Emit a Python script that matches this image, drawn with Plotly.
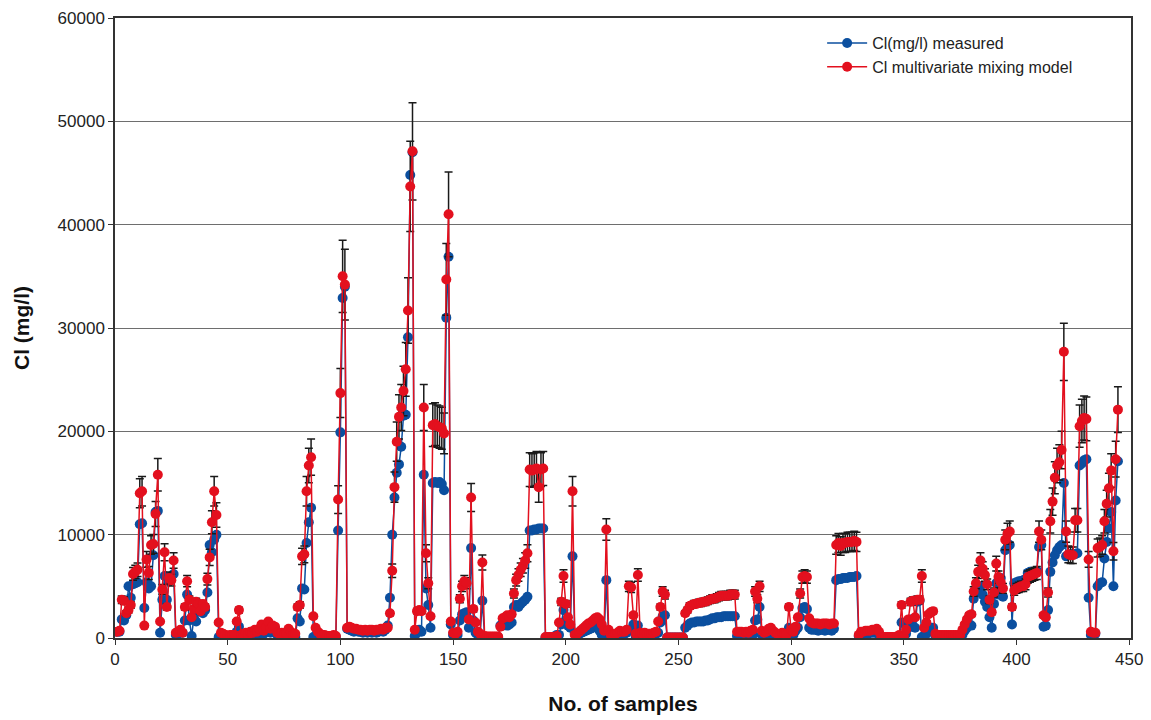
import plotly.graph_objects as go

# Cl (mg/l) measured, samples 1..445 (rows of 10)
measured_cl = [
    600, 600, 1800, 1700, 2200, 5000, 3900, 5200, 5300, 5400,
    11000, 11100, 2900, 5400, 4800, 5000, 8000, 12200, 12300, 500,
    3700, 6000, 3700, 5500, 6000, 6200, 300, 400, 700, 500,
    1700, 4200, 1700, 200, 2000, 1600, 2600, 3000, 2400, 2700,
    4400, 9000, 8300, 9500, 10000, 100, 100, 100, 50, 100,
    200, 200, 200, 600, 1100, 100, 200, 300, 100, 400,
    300, 500, 300, 700, 900, 400, 600, 1000, 500, 700,
    900, 300, 200, 300, 100, 200, 600, 300, 100, 100,
    1900, 1600, 4800, 4700, 9200, 11200, 12600, 100, 150, 200,
    100, 100, 100, 100, 50, 100, 100, 100, 10400, 19900,
    32900, 34000, 900, 800, 700, 600, 700, 600, 600, 500,
    600, 500, 600, 500, 600, 500, 600, 700, 600, 800,
    1200, 3900, 10000, 13600, 16000, 16800, 18500, 21500, 21600, 29100,
    44800, 47000, 200, 500, 800, 600, 15800, 4800, 3200, 1000,
    15000, 15100, 15000, 15100, 14900, 14300, 31000, 36900, 1300, 300,
    200, 300, 1700, 2300, 2400, 2500, 1000, 8700, 1700, 500,
    300, 200, 3600, 100, 80, 80, 80, 80, 80, 80,
    1200, 1200, 1300, 1200, 1300, 1500, 3000, 3200, 3000, 3300,
    3500, 3700, 4000, 10400, 10400, 10500, 10500, 10600, 10600, 10600,
    50, 50, 50, 50, 100, 300, 300, 1300, 2700, 1700,
    1200, 1000, 7900, 400, 300, 400, 500, 600, 700, 800,
    900, 1000, 1100, 1200, 700, 300, 100, 5600, 300, 200,
    100, 200, 300, 400, 300, 400, 500, 700, 800, 1300,
    200, 1200, 300, 200, 300, 200, 300, 200, 300, 400,
    500, 1500, 2100, 2200, 50, 50, 50, 50, 50, 50,
    50, 50, 1000, 1200, 1400, 1500, 1500, 1600, 1600, 1600,
    1600, 1700, 1700, 1800, 1900, 1900, 2000, 2000, 2000, 2100,
    2100, 2100, 2100, 2100, 2100, 200, 300, 200, 100, 200,
    100, 200, 300, 1700, 1800, 3000, 300, 200, 300, 500,
    700, 400, 300, 200, 100, 200, 300, 100, 1000, 500,
    300, 700, 1000, 2000, 2900, 3000, 2800, 1000, 800, 800,
    800, 700, 800, 800, 700, 800, 800, 700, 900, 5600,
    5700, 5700, 5800, 5800, 5800, 5900, 5900, 5900, 6000, 200,
    300, 300, 400, 400, 500, 500, 500, 600, 300, 50,
    50, 50, 50, 50, 50, 50, 50, 200, 1500, 100,
    400, 1000, 1800, 1800, 1000, 3500, 3600, 100, 200, 400,
    800, 1000, 1000, 200, 100, 100, 100, 100, 100, 100,
    100, 100, 100, 100, 100, 300, 700, 1000, 1200, 1200,
    3800, 4800, 4400, 5000, 4200, 3500, 3000, 2000, 1000, 3300,
    5300, 4200, 5800, 4000, 8500, 8800, 9000, 1300, 5300, 5400,
    5500, 5500, 5600, 5700, 6300, 6400, 6400, 6400, 6500, 8800,
    9000, 1100, 1200, 2700, 6400, 7300, 8000, 8500, 8800, 9000,
    15000, 7900, 8000, 8100, 8100, 8100, 8200, 16700, 16900, 17200,
    17300, 3900, 300, 300, 400, 5000, 5300, 5400, 7700, 9300,
    10600, 12200, 5000, 13300, 17100,
]

# Cl multivariate mixing model, samples 1..445
model_cl = [
    600, 700, 3700, 3600, 2400, 2700, 3200, 6200, 6400, 6600,
    14000, 14200, 1200, 7600, 6300, 9000, 9100, 12000, 15800, 1600,
    4700, 8300, 3000, 5800, 5600, 7500, 500, 600, 800, 500,
    3000, 5500, 3700, 2000, 2800, 3500, 3300, 2600, 3300, 3000,
    5700, 7800, 11200, 14200, 11900, 1500, 500, 400, 300, 200,
    300, 300, 300, 1600, 2700, 300, 400, 500, 300, 600,
    500, 800, 600, 900, 1300, 700, 1000, 1600, 900, 1200,
    1100, 500, 400, 500, 300, 400, 900, 600, 300, 400,
    3000, 3200, 7900, 8100, 14200, 16700, 17500, 2100, 1000, 600,
    400, 300, 300, 200, 200, 200, 300, 200, 13400, 23700,
    35000, 34200, 1000, 1100, 1000, 900, 900, 800, 800, 700,
    800, 700, 800, 800, 700, 800, 800, 900, 800, 1000,
    1000, 2400, 6500, 14600, 19000, 21400, 22300, 23900, 26000, 31700,
    43700, 47100, 800, 2600, 2700, 2600, 22300, 8200, 5300, 2100,
    20600, 20700, 20500, 20400, 20300, 19800, 34700, 41000, 1600, 500,
    400, 600, 3800, 5000, 5500, 5300, 1800, 13600, 2800, 1500,
    600, 400, 7300, 200, 150, 150, 150, 150, 150, 150,
    1100, 1900, 2000, 2200, 2000, 2300, 4300, 5600, 6100, 6600,
    7000, 7500, 8200, 16300, 16200, 16300, 16400, 14600, 16300, 16400,
    100, 100, 100, 100, 100, 200, 1500, 3500, 6000, 3300,
    2000, 1300, 14200, 300, 400, 600, 800, 1000, 1200, 1400,
    1500, 1700, 1900, 2000, 1800, 1300, 700, 10500, 800, 300,
    200, 400, 500, 700, 600, 600, 800, 5000, 4900, 2200,
    400, 6100, 500, 400, 500, 400, 400, 400, 500, 600,
    1600, 3000, 4500, 4200, 50, 50, 50, 50, 50, 50,
    50, 50, 2400, 2700, 3100, 3200, 3300, 3300, 3400, 3400,
    3500, 3500, 3600, 3700, 3800, 3800, 3900, 4000, 4100, 4100,
    4100, 4100, 4200, 4200, 4200, 600, 600, 600, 500, 600,
    500, 700, 800, 4500, 3800, 5000, 700, 500, 600, 900,
    1000, 700, 500, 400, 300, 500, 400, 300, 3000, 800,
    600, 1100, 2000, 4300, 5900, 6000, 5900, 1900, 1500, 1400,
    1400, 1400, 1300, 1400, 1400, 1400, 1300, 1400, 1400, 9000,
    9200, 8900, 9200, 9200, 9300, 9300, 9300, 9400, 9300, 300,
    600, 600, 700, 700, 700, 800, 800, 900, 600, 100,
    100, 100, 100, 100, 100, 100, 100, 300, 3200, 200,
    800, 1800, 3500, 3600, 2000, 3700, 3700, 6000, 1000, 1500,
    2300, 2500, 2600, 400, 300, 300, 300, 300, 300, 300,
    300, 300, 300, 300, 300, 800, 1300, 1800, 2200, 2300,
    4500, 5300, 6400, 7500, 6700, 6100, 5200, 3700, 2500, 4400,
    7200, 5900, 5400, 4800, 9500, 10100, 10300, 3000, 4600, 4800,
    4900, 5000, 5000, 5200, 5900, 6000, 6100, 6200, 6300, 10300,
    9500, 2200, 2000, 4400, 11300, 13200, 15500, 16700, 17000, 18200,
    27700, 10300, 8100, 8000, 8000, 11400, 11400, 20500, 21000, 21300,
    21200, 7600, 600, 500, 500, 8700, 8800, 9000, 11300, 13000,
    14500, 16200, 8400, 17300, 22100,
]

samples = list(range(1, len(model_cl) + 1))

x_ticks = [0, 50, 100, 150, 200, 250, 300, 350, 400, 450]
y_ticks = [0, 10000, 20000, 30000, 40000, 50000, 60000]

BLUE = "#0b4f9f"
RED = "#e3101e"
FONT = "Liberation Sans, Arial, sans-serif"

fig = go.Figure()
fig.add_trace(go.Scatter(
    x=samples, y=measured_cl, name="Cl(mg/l) measured",
    mode="lines+markers",
    line=dict(color=BLUE, width=1.5),
    marker=dict(color=BLUE, size=10),
))
fig.add_trace(go.Scatter(
    x=samples, y=model_cl, name="Cl multivariate mixing model",
    mode="lines+markers",
    line=dict(color=RED, width=1.5),
    marker=dict(color=RED, size=10),
    error_y=dict(type="percent", value=10, color="#1a1a1a", thickness=1.5, width=4),
))

fig.update_layout(
    width=1151, height=720,
    margin=dict(l=115, r=20, t=18, b=82),
    paper_bgcolor="white", plot_bgcolor="white",
    font=dict(family=FONT, size=17, color="#222"),
    showlegend=True,
    legend=dict(
        x=0.696, y=0.987, xanchor="left", yanchor="top",
        bgcolor="rgba(255,255,255,0)", font=dict(size=16, color="#222"),
        tracegroupgap=0, itemwidth=40,
    ),
    xaxis=dict(
        range=[0, 450.8], tickvals=x_ticks, ticks="outside", ticklen=5,
        tickcolor="#333", showline=True, linecolor="#333", linewidth=1.5,
        mirror=True, showgrid=False, zeroline=False, automargin=False,
        title=dict(text="<b>No. of samples</b>", font=dict(size=21, color="#111"), standoff=28),
    ),
    yaxis=dict(
        range=[0, 60000], tickvals=y_ticks, tickformat="d", ticks="outside", ticklen=5,
        tickcolor="#333", showline=True, linecolor="#333", linewidth=1.5,
        mirror=True, showgrid=True, gridcolor="#6e6e6e", gridwidth=1, zeroline=False,
        automargin=False,
        title=dict(text="<b>Cl (mg/l)</b>", font=dict(size=21, color="#111"), standoff=22),
    ),
)

fig.write_html("out.html")
